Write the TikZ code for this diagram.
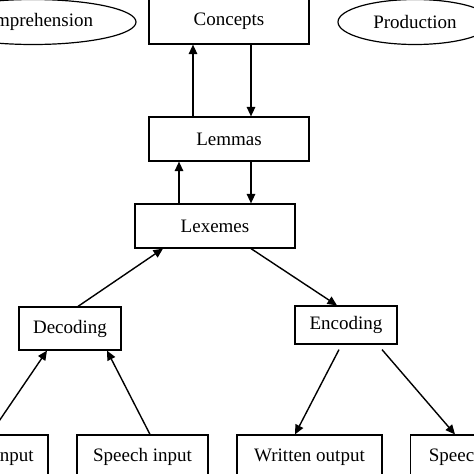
\documentclass[tikz,border=0pt]{standalone}
\usepackage{fontspec}
\setmainfont{Liberation Serif}
\usetikzlibrary{arrows.meta}
\usetikzlibrary{shapes}

\begin{document}
\begin{tikzpicture}[x = 1pt, y = -1pt]
\tikzstyle{BoxStyle}=[shape = rectangle,
                      draw,
                      line width = 1.2pt,
                      inner sep = 0pt,
                      minimum height = 44pt,
                      font = \fontsize{19}{22}\selectfont]
\tikzstyle{SideStyle}=[shape = ellipse,
                       draw,
                       line width = 1.2pt,
                       inner sep = 0pt,
                       minimum height = 45pt,
                       font = \fontsize{19}{22}\selectfont]
\tikzstyle{LinkStyle}=[-{Triangle[length = 9.5pt, width = 8.5pt]}, line width = 1.4pt]
\clip (0, 0) rectangle (474, 474);
\fill[white] (0, 0) rectangle (474, 474);
\node[SideStyle, minimum width = 206pt] (comprehension) at (33, 22) {Comprehension};
\node[SideStyle, minimum width = 154pt] (production) at (415, 22) {Production};
\node[BoxStyle, minimum width = 160pt, minimum height = 46pt] (concepts) at (229, 21) {Concepts};
\node[BoxStyle, minimum width = 160pt] (lemmas) at (229, 139) {Lemmas};
\node[BoxStyle, minimum width = 160pt] (lexemes) at (215, 226) {Lexemes};
\node[BoxStyle, minimum width = 102pt, minimum height = 43pt] (decoding) at (70, 328.5) {Decoding};
\node[BoxStyle, minimum width = 102pt, minimum height = 38pt] (encoding) at (346, 325) {Encoding};
\node[BoxStyle, minimum width = 130pt] (writtenin) at (-17, 457) {Written input};
\node[BoxStyle, minimum width = 131pt] (speechin) at (142.5, 457) {Speech input};
\node[BoxStyle, minimum width = 145pt] (writtenout) at (309.5, 457) {Written output};
\node[BoxStyle, minimum width = 145pt] (speechout) at (483, 457) {Speech output};
\draw[LinkStyle] ([xshift = -36pt]lemmas.north) -- ([xshift = -36pt]concepts.south);
\draw[LinkStyle] ([xshift = 22pt]concepts.south) -- ([xshift = 22pt]lemmas.north);
\draw[LinkStyle] ([xshift = -36pt]lexemes.north) -- ([xshift = -50pt]lemmas.south);
\draw[LinkStyle] ([xshift = 22pt]lemmas.south) -- ([xshift = 36pt]lexemes.north);
\draw[LinkStyle] ([xshift = 8pt]decoding.north) -- ([xshift = -52pt]lexemes.south);
\draw[LinkStyle] ([xshift = 36pt]lexemes.south) -- ([xshift = -9pt]encoding.north);
\draw[LinkStyle] ([xshift = 7pt]writtenin.north) -- ([xshift = -23pt]decoding.south);
\draw[LinkStyle] ([xshift = 7.5pt]speechin.north) -- ([xshift = 37pt]decoding.south);
\draw[LinkStyle] ([xshift = -7pt, yshift = -5pt]encoding.south) -- ([xshift = -14.5pt]writtenout.north);
\draw[LinkStyle] ([xshift = 36pt, yshift = -5pt]encoding.south) -- ([xshift = -28pt]speechout.north);
\end{tikzpicture}
\end{document}
